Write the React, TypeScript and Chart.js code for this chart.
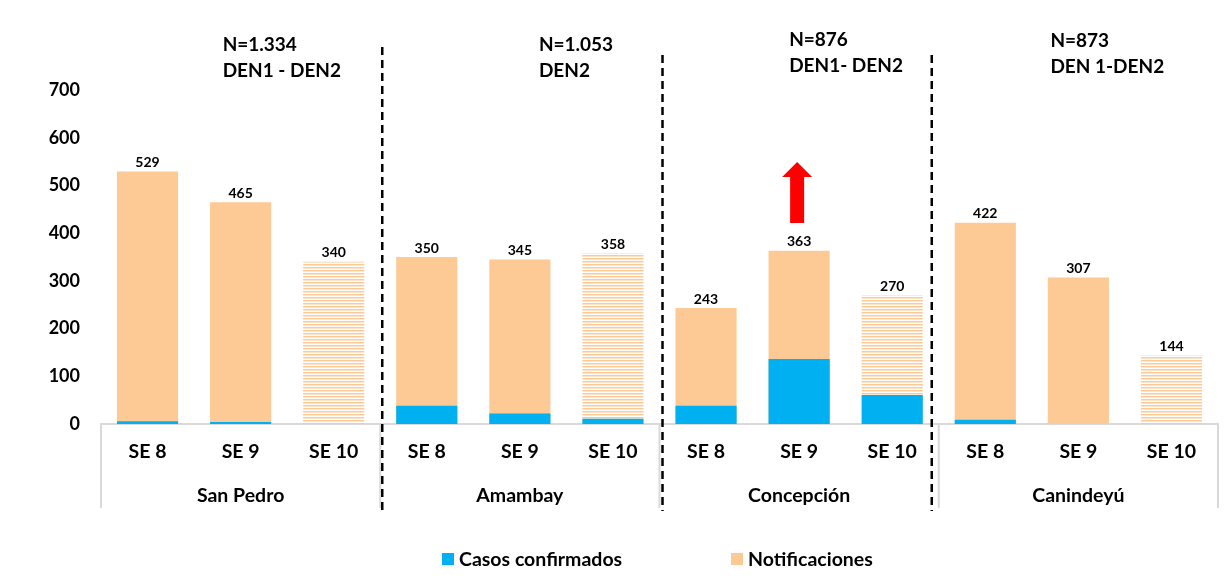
import React, { useEffect, useRef } from "react";
import { Chart, registerables } from "chart.js";

Chart.register(...registerables);

// ---- data ----
const weeks = ["SE 8", "SE 9", "SE 10", "SE 8", "SE 9", "SE 10", "SE 8", "SE 9", "SE 10", "SE 8", "SE 9", "SE 10"];
const departments = ["San Pedro", "Amambay", "Concepción", "Canindeyú"];
const headerTotals = ["N=1.334", "N=1.053", "N=876", "N=873"];
const headerSerotypes = ["DEN1 - DEN2", "DEN2", "DEN1- DEN2", "DEN 1-DEN2"];
const notificaciones = [529, 465, 340, 350, 345, 358, 243, 363, 270, 422, 307, 144];
const confirmados = [6, 4, 0, 38, 22, 11, 38, 136, 61, 9, 0, 0];
const yMin = 0;
const yMax = 700;
const yStep = 100;
const arrowCategory = 7; // Concepción SE 9
const arrowFrom = 421;
const arrowTo = 549;

// ---- styles ----
const FONT = "Lato, 'Open Sans', sans-serif";
const ORANGE = "#FDCA96";
const BLUE = "#00B0F0";
const GRAY = "#D9D9D9";
const headerOffsets = [-18, 19, -10, -28];
const headerTops = [45, 45, 40, 41];
const dashTops = [47, 55, 55];
const dashOffsets = [2, 3, -7];

function makeStripePattern(): CanvasPattern | string {
  const c = document.createElement("canvas");
  c.width = 8;
  c.height = 3;
  const g = c.getContext("2d");
  if (!g) return ORANGE;
  g.fillStyle = "#ffffff";
  g.fillRect(0, 0, 8, 3);
  g.fillStyle = ORANGE;
  g.fillRect(0, 0, 8, 1.5);
  return g.createPattern(c, "repeat") || ORANGE;
}

const overlayPlugin = {
  id: "overlay",
  afterDatasetsDraw(chart: any) {
    const ctx: CanvasRenderingContext2D = chart.ctx;
    const xs = chart.scales.x;
    const ys = chart.scales.y;
    const area = chart.chartArea;
    ctx.save();

    // value labels above notification bars
    const meta = chart.getDatasetMeta(1);
    ctx.font = `bold 14px ${FONT}`;
    ctx.fillStyle = "#000";
    ctx.textAlign = "center";
    ctx.textBaseline = "bottom";
    meta.data.forEach((bar: any, i: number) => {
      ctx.fillText(String(notificaciones[i]), bar.x, bar.y - 2);
    });

    // group separators (gray) on the axis area
    const bounds: number[] = [];
    for (let g = 1; g < departments.length; g++) {
      const i = g * 3;
      bounds.push((xs.getPixelForValue(i - 1) + xs.getPixelForValue(i)) / 2);
    }
    ctx.strokeStyle = GRAY;
    ctx.lineWidth = 2;
    [area.left, ...bounds, area.right].forEach((x) => {
      ctx.beginPath();
      ctx.moveTo(x, area.bottom);
      ctx.lineTo(x, 508);
      ctx.stroke();
    });

    // dashed black separators
    ctx.strokeStyle = "#000";
    ctx.lineWidth = 2.5;
    ctx.setLineDash([8, 5]);
    bounds.forEach((x, k) => {
      ctx.beginPath();
      ctx.moveTo(x + dashOffsets[k], dashTops[k]);
      ctx.lineTo(x + dashOffsets[k], 511);
      ctx.stroke();
    });
    ctx.setLineDash([]);

    // headers
    ctx.font = `bold 19px ${FONT}`;
    ctx.textAlign = "left";
    ctx.textBaseline = "middle";
    departments.forEach((_, g) => {
      const x = xs.getPixelForValue(g * 3 + 1) + headerOffsets[g];
      ctx.fillText(headerTotals[g], x, headerTops[g]);
      ctx.fillText(headerSerotypes[g], x, headerTops[g] + 26);
    });

    // red arrow
    const ax = xs.getPixelForValue(arrowCategory) - 2;
    const yBase = ys.getPixelForValue(arrowFrom);
    const yTip = ys.getPixelForValue(arrowTo);
    const headLen = 15;
    ctx.fillStyle = "#FF0000";
    ctx.beginPath();
    ctx.moveTo(ax - 7, yBase);
    ctx.lineTo(ax + 7, yBase);
    ctx.lineTo(ax + 7, yTip + headLen);
    ctx.lineTo(ax + 15, yTip + headLen);
    ctx.lineTo(ax, yTip);
    ctx.lineTo(ax - 15, yTip + headLen);
    ctx.lineTo(ax - 7, yTip + headLen);
    ctx.closePath();
    ctx.fill();

    ctx.restore();
  },
};

export default function App() {
  const ref = useRef<HTMLCanvasElement | null>(null);

  useEffect(() => {
    if (!ref.current) return;
    const stripes = makeStripePattern();
    const chart = new Chart(ref.current, {
      type: "bar",
      data: {
        labels: weeks,
        datasets: [
          {
            label: "Casos confirmados",
            data: confirmados,
            backgroundColor: BLUE,
            order: 0,
            barPercentage: 0.9,
            categoryPercentage: 0.73,
          },
          {
            label: "Notificaciones",
            data: notificaciones,
            backgroundColor: weeks.map((w) => (w === "SE 10" ? stripes : ORANGE)) as any,
            order: 1,
            barPercentage: 0.9,
            categoryPercentage: 0.73,
          },
        ],
      },
      options: {
        responsive: false,
        animation: false,
        layout: { padding: { top: 90, right: 11, bottom: 52, left: 0 } },
        plugins: {
          legend: { display: false },
          tooltip: { enabled: false },
        },
        scales: {
          x: {
            stacked: true,
            offset: true,
            grid: { display: false, drawTicks: false },
            border: { display: true, color: GRAY, width: 2 },
            ticks: { color: "#000", font: { family: FONT, size: 19.5, weight: "bold" }, padding: 16, maxRotation: 0 },
            afterFit: (s: any) => {
              s.height = 60;
            },
          },
          x2: {
            type: "category",
            labels: departments,
            position: "bottom",
            offset: true,
            grid: { display: false, drawTicks: false },
            border: { display: false },
            ticks: { color: "#000", font: { family: FONT, size: 19.5, weight: "bold" }, padding: 0, maxRotation: 0 },
            afterFit: (s: any) => {
              s.height = 40;
            },
          },
          y: {
            stacked: false,
            min: yMin,
            max: yMax,
            grid: { display: false, drawTicks: false },
            border: { display: false },
            ticks: { stepSize: yStep, color: "#000", font: { family: FONT, size: 18, weight: "bold" }, padding: 21 },
            afterFit: (s: any) => {
              s.width = 101;
            },
          },
        },
      } as any,
      plugins: [overlayPlugin],
    });
    return () => chart.destroy();
  }, []);

  const legendText: React.CSSProperties = {
    fontFamily: FONT,
    fontWeight: "bold",
    fontSize: 19.5,
    color: "#000",
    position: "absolute",
    top: 546,
    lineHeight: "26px",
    whiteSpace: "nowrap",
  };

  return (
    <div style={{ position: "absolute", left: 0, top: 0, width: 1229, height: 576, background: "#fff" }}>
      <canvas ref={ref} width={1229} height={576} style={{ display: "block" }} />
      <div style={{ position: "absolute", left: 442, top: 553, width: 12, height: 12, background: BLUE }} />
      <div style={{ ...legendText, left: 459 }}>Casos confirmados</div>
      <div style={{ position: "absolute", left: 731, top: 553, width: 12, height: 12, background: ORANGE }} />
      <div style={{ ...legendText, left: 748 }}>Notificaciones</div>
    </div>
  );
}
